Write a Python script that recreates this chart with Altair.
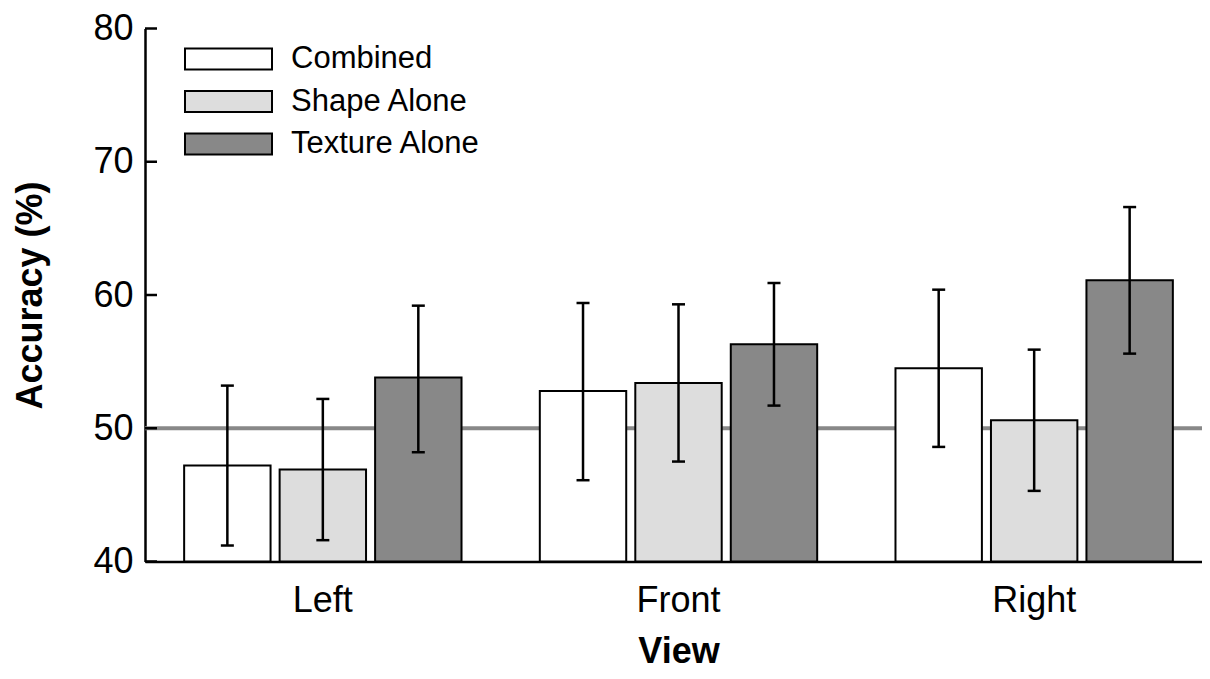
import altair as alt
import pandas as pd

# ---- data ----
views = ["Left", "Front", "Right"]
conditions = ["Combined", "Shape Alone", "Texture Alone"]
fill_colors = ["#ffffff", "#dddddd", "#888888"]

acc_combined = [47.2, 52.8, 54.5]
acc_shape = [46.9, 53.4, 50.6]
acc_texture = [53.8, 56.3, 61.1]

lo_combined = [41.2, 46.1, 48.6]
lo_shape = [41.6, 47.5, 45.3]
lo_texture = [48.2, 51.7, 55.6]

hi_combined = [53.2, 59.4, 60.4]
hi_shape = [52.2, 59.3, 55.9]
hi_texture = [59.2, 60.9, 66.6]

y_ticks = [40, 50, 60, 70, 80]
chance_level = [50]

acc = {"Combined": acc_combined, "Shape Alone": acc_shape, "Texture Alone": acc_texture}
lo = {"Combined": lo_combined, "Shape Alone": lo_shape, "Texture Alone": lo_texture}
hi = {"Combined": hi_combined, "Shape Alone": hi_shape, "Texture Alone": hi_texture}

rows = []
for i, v in enumerate(views):
    for c in conditions:
        rows.append({"view": v, "condition": c, "acc": acc[c][i], "lo": lo[c][i], "hi": hi[c][i]})
df = pd.DataFrame(rows)
ticks_df = pd.DataFrame({"t": y_ticks})
chance_df = pd.DataFrame({"c": chance_level})

FONT = "Liberation Sans"
PLOT_W = 1057
y_scale = alt.Scale(domain=[40, 80], zero=False, nice=False)
# the category axis runs a little past the right edge of the page, as in the reference
x_scale = alt.Scale(paddingInner=0, paddingOuter=0, range=[0, 1067])
xo_scale = alt.Scale(paddingInner=0.095, paddingOuter=0.41)

x_axis = alt.Axis(
    title="View", labelAngle=0, ticks=False, tickSize=0, labelPadding=22,
    grid=False,
    labelFont=FONT, labelFontSize=36, labelColor="black",
    titleFont=FONT, titleFontSize=36, titleFontWeight="bold", titleColor="black",
    titleBaseline="bottom", titleY=109,
    domainColor="black", domainWidth=2.5,
)
y_axis = alt.Axis(
    title="Accuracy (%)", values=y_ticks, ticks=False, tickSize=0, labelPadding=12,
    grid=False,
    labelFont=FONT, labelFontSize=36, labelColor="black",
    titleFont=FONT, titleFontSize=36, titleFontWeight="bold", titleColor="black",
    titleBaseline="alphabetic", titleX=-104,
    domainColor="black", domainWidth=2.5,
)

X = alt.X("view:N", sort=views, scale=x_scale, axis=x_axis)
XO = alt.XOffset("condition:N", sort=conditions, scale=xo_scale)

chance = alt.Chart(chance_df).mark_rule(color="#888888", strokeWidth=4).encode(
    y=alt.Y("c:Q", scale=y_scale, axis=y_axis)
)

bars = alt.Chart(df).mark_bar(stroke="black", strokeWidth=2, opacity=1).encode(
    x=X,
    xOffset=XO,
    y=alt.Y("acc:Q", scale=y_scale, axis=y_axis),
    y2=alt.datum(40),
    fill=alt.Fill(
        "condition:N", sort=conditions,
        scale=alt.Scale(domain=conditions, range=fill_colors),
        legend=alt.Legend(
            title=None, orient="none", legendX=68, legendY=15, padding=0,
            symbolType="M-4.1429,-1H4.1429V1H-4.1429Z", symbolSize=441,
            symbolStrokeColor="black", symbolStrokeWidth=2, symbolOpacity=1,
            labelFont=FONT, labelFontSize=31, labelColor="black", labelOffset=47,
            labelLimit=500, rowPadding=10.5,
        ),
    ),
)

err = alt.Chart(df).mark_rule(color="black", strokeWidth=2.5).encode(
    x=X,
    xOffset=XO,
    y=alt.Y("lo:Q", scale=y_scale, axis=y_axis),
    y2="hi:Q",
)

cap_lo = alt.Chart(df).mark_tick(color="black", size=13, thickness=2.5, opacity=1).encode(
    x=X,
    xOffset=XO,
    y=alt.Y("lo:Q", scale=y_scale, axis=y_axis),
)
cap_hi = alt.Chart(df).mark_tick(color="black", size=13, thickness=2.5, opacity=1).encode(
    x=X,
    xOffset=XO,
    y=alt.Y("hi:Q", scale=y_scale, axis=y_axis),
)

inner_ticks = alt.Chart(ticks_df).mark_rule(color="black", strokeWidth=2.5).encode(
    y=alt.Y("t:Q", scale=y_scale, axis=y_axis),
    x=alt.value(0),
    x2=alt.value(12),
)

chart = alt.layer(chance, bars, err, cap_lo, cap_hi, inner_ticks).properties(
    width=PLOT_W, height=533,
    background="white",
    autosize=alt.AutoSizeParams(type="none"),
    padding={"left": 137, "top": 20.5, "right": 0, "bottom": 109.5},
).configure_view(strokeWidth=0, stroke="transparent").configure_axis(grid=False)

chart.save("out.html", embed_options={"renderer": "svg", "actions": False})
